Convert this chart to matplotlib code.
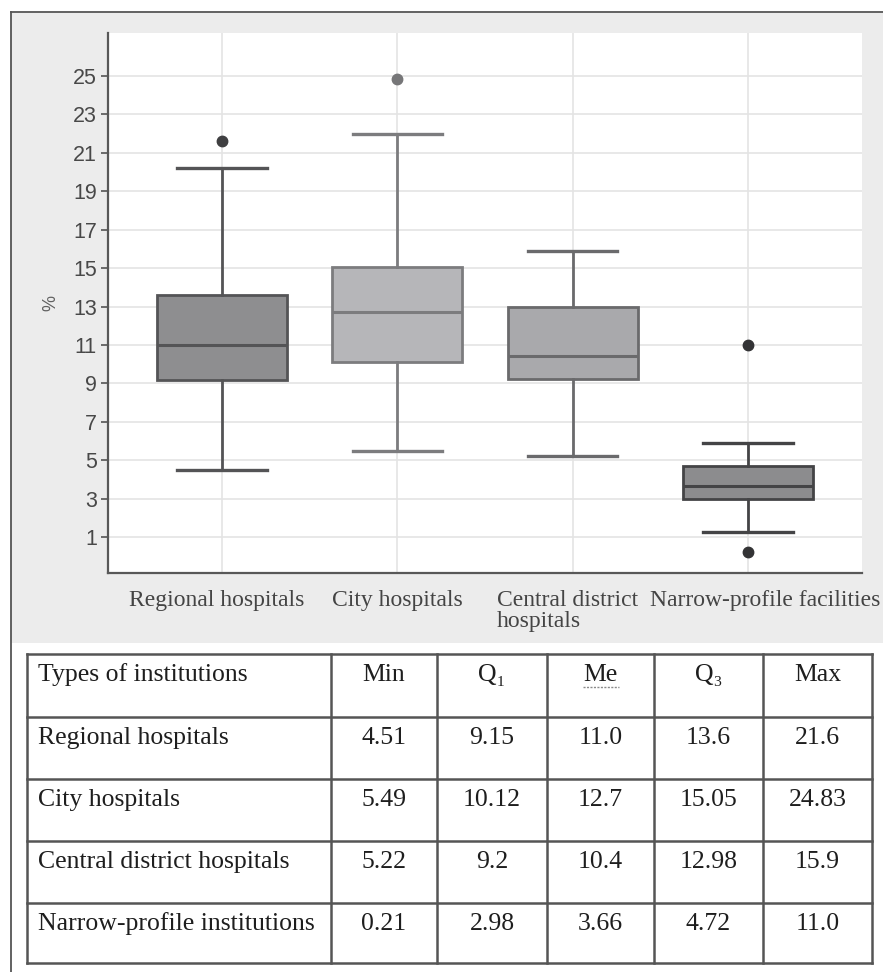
import matplotlib
matplotlib.use("Agg")
import matplotlib.pyplot as plt
from matplotlib.patches import Rectangle
from matplotlib.transforms import ScaledTranslation

# ---- data ----
categories = ["Regional hospitals", "City hospitals",
              "Central district\nhospitals", "Narrow-profile facilities"]
table_names = ["Regional hospitals", "City hospitals",
               "Central district hospitals", "Narrow-profile institutions"]
mins = ["4.51", "5.49", "5.22", "0.21"]
q1s = ["9.15", "10.12", "9.2", "2.98"]
meds = ["11.0", "12.7", "10.4", "3.66"]
q3s = ["13.6", "15.05", "12.98", "4.72"]
maxs = ["21.6", "24.83", "15.9", "11.0"]
whisker_low = [4.51, 5.49, 5.22, 1.26]
whisker_high = [20.2, 22.0, 15.9, 5.9]
yticks = [1, 3, 5, 7, 9, 11, 13, 15, 17, 19, 21, 23, 25]
headers = ["Types of institutions", "Min", "Q\u2081", "Me", "Q\u2083", "Max"]

# ---- styles ----
box_face = ["#8e8e90", "#b6b6b9", "#a9a9ac", "#8c8c8e"]
box_edge = ["#545456", "#7c7c7e", "#6a6a6c", "#444446"]
flier_col = ["#3f3f41", "#767678", "#3f3f41", "#333335"]

W, H = 883, 972
fig = plt.figure(figsize=(W / 100, H / 100), dpi=100)
fig.patch.set_facecolor("white")

# background panel behind the chart and outer frame
fig.patches.append(Rectangle((11 / W, 1 - 643 / H), (W - 11) / W, (643 - 13) / H,
                             transform=fig.transFigure, facecolor="#ececec",
                             edgecolor="none", zorder=-5))
fig.lines.append(plt.Line2D([10.5 / W, 10.5 / W], [0, 1 - 12 / H],
                            transform=fig.transFigure, color="#555555", lw=1.3))
fig.lines.append(plt.Line2D([10.5 / W, 1], [1 - 12 / H, 1 - 12 / H],
                            transform=fig.transFigure, color="#555555", lw=1.3))

# ---- box plot ----
ax = fig.add_axes([108 / W, 1 - 573 / H, (862 - 108) / W, (573 - 33) / H])
ax.set_zorder(2)
ax.set_facecolor("white")
stats = []
for i in range(len(categories)):
    lo, hi = float(mins[i]), float(maxs[i])
    fl = [v for v in (lo, hi) if v < whisker_low[i] or v > whisker_high[i]]
    stats.append(dict(med=float(meds[i]), q1=float(q1s[i]), q3=float(q3s[i]),
                      whislo=whisker_low[i], whishi=whisker_high[i], fliers=fl))
positions = list(range(len(categories)))
for i, s in enumerate(stats):
    ax.bxp([s], positions=[positions[i]], widths=0.74, patch_artist=True,
           boxprops=dict(facecolor=box_face[i], edgecolor=box_edge[i], lw=2.0),
           medianprops=dict(color=box_edge[i], lw=2.2),
           whiskerprops=dict(color=box_edge[i], lw=2.0),
           capprops=dict(color=box_edge[i], lw=2.4),
           capwidths=0.51,
           flierprops=dict(marker="o", markersize=7.5, markerfacecolor=flier_col[i],
                           markeredgecolor=flier_col[i]),
           zorder=3)

ax.set_xlim(-0.65, 3.65)
ax.set_ylim(-0.875, 27.24)
ax.set_yticks(yticks)
ax.set_yticklabels([str(t) for t in yticks], fontsize=15.5, family="Liberation Sans",
                   color="#484848")
ax.set_xticks(positions)
ax.set_xticklabels(categories, fontsize=17, family="Liberation Serif",
                   color="#444444", multialignment="left", linespacing=1.0)
ax.tick_params(axis="y", length=5, width=1.3, color="#606060", pad=3)
ax.tick_params(axis="x", length=0, pad=12)
offsets = [-5, 0, -5, 0]
for lab, dx in zip(ax.get_xticklabels(), offsets):
    lab.set_transform(lab.get_transform() + ScaledTranslation(dx / 100, 0, fig.dpi_scale_trans))
lab = ax.get_xticklabels()[3]
lab.set_transform(lab.get_transform() + ScaledTranslation(17 / 100, 0, fig.dpi_scale_trans))

ax.grid(True, color="#e4e4e4", lw=1.2, zorder=0)
ax.set_axisbelow(True)
for side in ("top", "right"):
    ax.spines[side].set_visible(False)
for side in ("left", "bottom"):
    ax.spines[side].set_color("#585858")
    ax.spines[side].set_linewidth(1.6)
ax.set_ylabel("%", fontsize=13, family="Liberation Sans", color="#606060", labelpad=10)

# ---- summary table ----
tab = fig.add_axes([0, 0, 1, 1], facecolor="none")
tab.set_xlim(0, W)
tab.set_ylim(H, 0)
tab.axis("off")
col_x = [27, 331, 437, 547, 654, 763, 872]
row_y = [654, 717, 779, 841, 903, 963]
for x in col_x:
    tab.plot([x, x], [row_y[0], row_y[-1]], color="#555555", lw=1.8,
             solid_capstyle="projecting")
for y in row_y:
    tab.plot([col_x[0], col_x[-1]], [y, y], color="#555555", lw=1.8,
             solid_capstyle="projecting")

rows = [headers] + [[table_names[i], mins[i], q1s[i], meds[i], q3s[i], maxs[i]]
                    for i in range(len(table_names))]
for r, row in enumerate(rows):
    ty = row_y[r] + 27
    for c, txt in enumerate(row):
        if c == 0:
            tab.text(col_x[0] + 11, ty, txt, ha="left", va="baseline", fontsize=18.5,
                     family=["Liberation Serif", "DejaVu Serif"], color="#1e1e1e")
        else:
            tab.text((col_x[c] + col_x[c + 1]) / 2, ty, txt, ha="center",
                     va="baseline", fontsize=18.5,
                     family=["Liberation Serif", "DejaVu Serif"], color="#1e1e1e")

# dotted proofing underline beneath the "Me" header
me_x = (col_x[3] + col_x[4]) / 2
tab.plot([me_x - 18, me_x + 18], [row_y[0] + 33, row_y[0] + 33], color="#8a8a8a",
         lw=1.0, linestyle=(0, (1.5, 1)))

fig.savefig("out.png", dpi=100)
